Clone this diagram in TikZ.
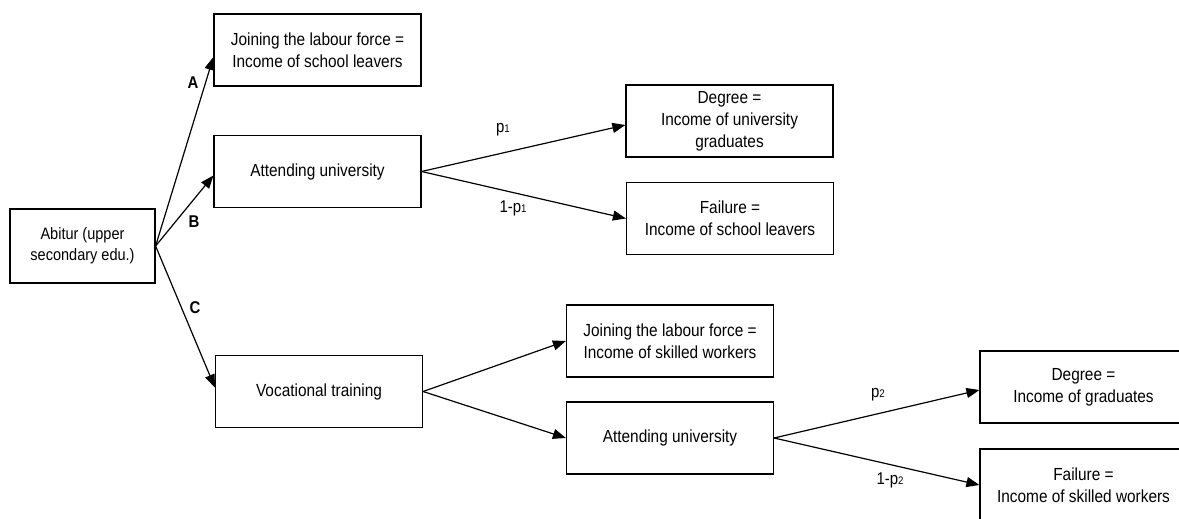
\documentclass[tikz,border=0pt]{standalone}
\usepackage{fontspec}
\setmainfont{Liberation Sans}[FakeStretch=0.88]
\usetikzlibrary{arrows.meta}
\newcommand\lowidx[1]{{\fontsize{11}{11}\selectfont #1}}
\begin{document}
\begin{tikzpicture}[x=1pt,y=-1pt,
  box/.style={draw, line width=1.2pt, minimum width=#1, minimum height=72pt,
    inner sep=0pt, align=center, font=\fontsize{17.5}{22}\selectfont},
  box/.default=207pt,
  arr/.style={line width=1.2pt, -{Triangle[length=13pt,width=10pt]}},
  branch/.style={font=\fontsize{17}{17}\selectfont\bfseries},
  prob/.style={font=\fontsize{17}{17}\selectfont}]
\useasboundingbox (0,0) rectangle (1179,519);
\fill[white] (0,0) rectangle (1179,519);
\clip (0,0) rectangle (1179,519);

% decision boxes
\node[box=145pt, minimum height=74pt, font=\fontsize{16.5}{21}\selectfont] (abitur) at (82.5,246) {Abitur (upper\\secondary edu.)};
\node[box] (join1) at (317.5,50) {Joining the labour force =\\Income of school leavers};
\node[box] (uni1) at (317.5,171.5) {Attending university};
\node[box] (deg1) at (729.5,121) {Degree =\\Income of university\\graduates};
\node[box] (fail1) at (730,218.5) {Failure =\\ Income of school leavers};
\node[box] (voc) at (319,391.5) {Vocational training};
\node[box] (join2) at (670,341) {Joining the labour force =\\Income of skilled workers};
\node[box] (uni2) at (670,438) {Attending university};
\node[box] (deg2) at (1083.5,387) {Degree =\\Income of graduates};
\node[box] (fail2) at (1083.5,485) {Failure =\\Income of skilled workers};

% connectors
\draw[arr] (abitur.east) -- ([yshift=-7pt]join1.west);
\draw[arr] (abitur.east) -- ([yshift=-4pt]uni1.west);
\draw[arr] (abitur.east) -- ([yshift=4pt]voc.west);
\draw[arr] (uni1.east) -- ([yshift=-4pt]deg1.west);
\draw[arr] (uni1.east) -- (fail1.west);
\draw[arr] (voc.east) -- (join2.west);
\draw[arr] (voc.east) -- (uni2.west);
\draw[arr] (uni2.east) -- ([yshift=-3pt]deg2.west);
\draw[arr] (uni2.east) -- (fail2.west);

% branch and probability labels
\node[branch] (la) at (193,83) {A};
\node[branch] (lb) at (194,222) {B};
\node[branch] (lc) at (195,308) {C};
\node[prob] (p1) at (503,130) {p\lowidx{1}};
\node[prob] (q1) at (513,208) {1-p\lowidx{1}};
\node[prob] (p2) at (878,395) {p\lowidx{2}};
\node[prob] (q2) at (890,480) {1-p\lowidx{2}};
\end{tikzpicture}
\end{document}
